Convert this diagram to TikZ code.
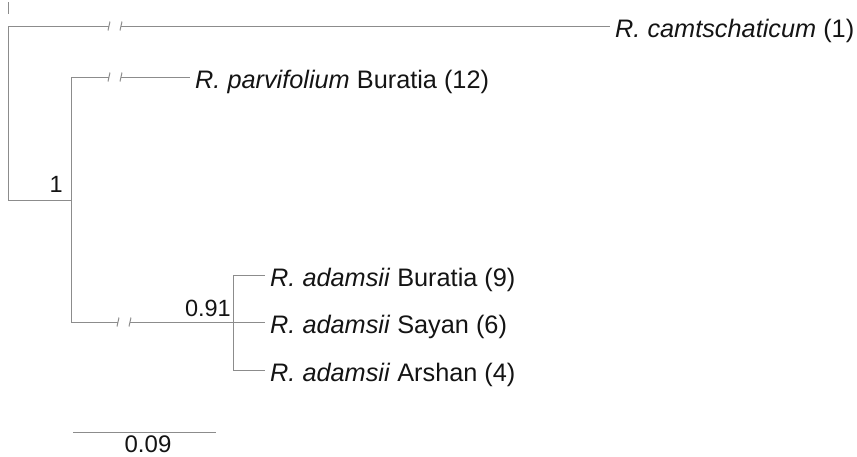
\documentclass[tikz,border=0pt]{standalone}
\usepackage{fontspec}
\setmainfont{Liberation Sans}
\usepackage{xcolor}
\usepackage{tikz}
\usetikzlibrary{positioning,calc}
\definecolor{branchGray}{HTML}{8C8C8C}
\definecolor{labelBlack}{HTML}{141414}

\begin{document}
\begin{tikzpicture}[x=1pt, y=-1pt,
    branch/.style={draw=branchGray, line width=1pt},
    leaf/.style={anchor=base west, inner xsep=5pt, inner ysep=0pt, text=labelBlack, font=\fontsize{25.3}{30}\selectfont},
    support/.style={inner sep=0pt, text=labelBlack, font=\fontsize{23.5}{28}\selectfont},
    scalelabel/.style={inner sep=0pt, text=labelBlack, font=\fontsize{24}{28}\selectfont}
]
\useasboundingbox (0,0) rectangle (857,456);

% Nodes
\coordinate (stub) at (8,2);
\coordinate (top) at (8,26);
\coordinate (root) at (8,200);
\coordinate (n1) at (71,200);
\coordinate (n1top) at (71,77);
\coordinate (n1bot) at (71,322);
\coordinate (n2) at (233,322);
\coordinate (n2top) at (233,275);
\coordinate (n2bot) at (233,370);

\coordinate (b1a) at (109,26);  \coordinate (b1b) at (121,26);
\coordinate (b2a) at (109,77);  \coordinate (b2b) at (121,77);
\coordinate (b3a) at (118,322); \coordinate (b3b) at (130,322);

\node[leaf] (cam) at (610,37) {\textit{R. camtschaticum} (1)};
\node[leaf] (par) at (190,88) {\textit{R. parvifolium} Buratia (12)};
\node[leaf] (bur) at (265,286) {\textit{R. adamsii} Buratia (9)};
\node[leaf] (say) at (265,333) {\textit{R. adamsii} Sayan (6)};
\node[leaf] (ars) at (265,381) {\textit{R. adamsii} Arshan (4)};

\node[support, anchor=south east] (s1) at (63,193) {1};
\node[support, anchor=south east] (s2) at (231,317) {0.91};

\coordinate (sc0) at (73,432);
\coordinate (sc1) at (216,432);
\node[scalelabel, anchor=north] (sclab) at (148,436) {0.09};

% Connections
\draw[branch] (stub) -- ++(0,12);
\draw[branch] (top) -- (root) -- (n1);
\draw[branch] (top) -- (b1a);
\draw[branch] (b1b) -- (b1b -| cam.west);
\draw[branch] (n1top) -- (n1bot);
\draw[branch] (n1top) -- (b2a);
\draw[branch] (b2b) -- (b2b -| par.west);
\draw[branch] (n1bot) -- (b3a);
\draw[branch] (b3b) -- (n2);
\draw[branch] (n2top) -- (n2bot);
\draw[branch] (n2top) -- (n2top -| bur.west);
\draw[branch] (n2) -- (n2 -| say.west);
\draw[branch] (n2bot) -- (n2bot -| ars.west);

% break marks
\foreach \b in {b1a,b1b,b2a,b2b,b3a,b3b}
    \draw[branch] (\b) ++(1,-4.5) -- ++(-2,9);

% scale bar
\draw[branch] (sc0) -- (sc1);

\end{tikzpicture}
\end{document}
